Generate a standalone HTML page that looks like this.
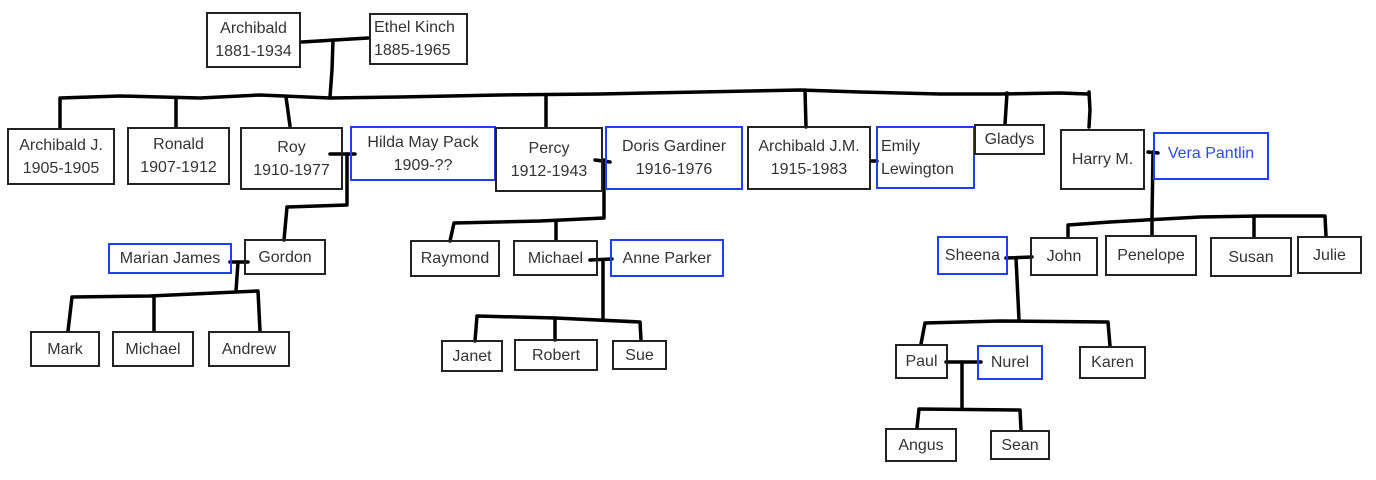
<!DOCTYPE html>
<html><head><meta charset="utf-8"><style>
body{margin:0;width:1376px;height:480px;background:#fff;position:relative;overflow:hidden;font-family:"Liberation Sans",sans-serif;}
.b{position:absolute;box-sizing:border-box;border:2px solid #222;color:#333;font-size:16px;line-height:23px;text-align:center;display:flex;flex-direction:column;justify-content:center;}
.u{border-color:#1f3ff0;}
svg{position:absolute;left:0;top:0;}
</style></head><body>
<svg width="1376" height="480" fill="none" stroke="#000" stroke-width="3.5" stroke-linecap="round" stroke-linejoin="round">
<polyline points="302,42 335,40 368,38"/>
<polyline points="333,40 332,70 330,97"/>
<polyline points="60,128 60,98 120,96 200,98 260,95 330,98 400,97 500,95 600,94 700,92 800,90 860,92 940,94 1000,94 1060,93 1088,94"/>
<polyline points="176,98 176,127"/><polyline points="286,97 290,126"/>
<polyline points="546,95 546,127"/><polyline points="805,90 806,127"/>
<polyline points="1007,93 1005,124"/><polyline points="1089,92 1090,110 1089,127"/>
<polyline points="330,154 355,154"/><polyline points="347,154 347,205 287,207 284,240"/>
<polyline points="595,160 610,162"/><polyline points="604,160 604,218 540,221 454,223 450,241"/>
<polyline points="556,221 556,240"/>
<polyline points="871,161 877,161"/>
<polyline points="590,260 612,259"/><polyline points="603,260 603,320"/>
<polyline points="475,341 477,316 555,318 640,322 641,340"/><polyline points="555,318 555,340"/>
<polyline points="230,262 248,262"/><polyline points="238,262 236,291"/>
<polyline points="68,331 72,297 150,296 258,291 260,331"/><polyline points="154,296 154,331"/>
<polyline points="1148,152 1158,153"/><polyline points="1153,152 1152,218"/>
<polyline points="1068,236 1068,225 1110,222 1200,217 1260,216 1325,216 1326,236"/>
<polyline points="1152,218 1152,235"/><polyline points="1254,216 1254,237"/>
<polyline points="1006,258 1032,257"/><polyline points="1016,258 1019,320"/>
<polyline points="921,344 925,323 1000,321 1108,322 1110,346"/>
<polyline points="946,362 981,362"/><polyline points="962,362 962,408"/>
<polyline points="917,428 919,409 1020,410 1021,430"/>
</svg>
<div class="b" style="left:206px;top:12px;width:95px;height:56px">Archibald<br>1881-1934</div>
<div class="b" style="left:369px;top:13px;width:99px;height:52px;text-align:left;padding-left:3px">Ethel Kinch<br>1885-1965</div>
<div class="b" style="left:7px;top:128px;width:108px;height:57px">Archibald J.<br>1905-1905</div>
<div class="b" style="left:127px;top:127px;width:103px;height:58px">Ronald<br>1907-1912</div>
<div class="b" style="left:240px;top:127px;width:103px;height:63px">Roy<br>1910-1977</div>
<div class="b u" style="left:350px;top:126px;width:146px;height:55px">Hilda May Pack<br>1909-??</div>
<div class="b" style="left:495px;top:127px;width:108px;height:65px">Percy<br>1912-1943</div>
<div class="b u" style="left:605px;top:126px;width:138px;height:64px">Doris Gardiner<br>1916-1976</div>
<div class="b" style="left:747px;top:126px;width:124px;height:64px">Archibald J.M.<br>1915-1983</div>
<div class="b u" style="left:876px;top:126px;width:99px;height:63px;text-align:left;padding-left:3px">Emily<br>Lewington</div>
<div class="b" style="left:974px;top:124px;width:71px;height:31px">Gladys</div>
<div class="b" style="left:1060px;top:129px;width:85px;height:61px">Harry M.</div>
<div class="b u" style="left:1153px;top:132px;width:116px;height:48px;color:#2a4af0;justify-content:flex-start;padding-top:8px">Vera Pantlin</div>
<div class="b u" style="left:108px;top:243px;width:124px;height:31px">Marian James</div>
<div class="b" style="left:244px;top:239px;width:82px;height:36px">Gordon</div>
<div class="b" style="left:410px;top:240px;width:90px;height:37px">Raymond</div>
<div class="b" style="left:513px;top:240px;width:85px;height:36px">Michael</div>
<div class="b u" style="left:610px;top:239px;width:114px;height:38px">Anne Parker</div>
<div class="b u" style="left:937px;top:236px;width:71px;height:39px">Sheena</div>
<div class="b" style="left:1030px;top:237px;width:68px;height:39px">John</div>
<div class="b" style="left:1105px;top:235px;width:92px;height:41px">Penelope</div>
<div class="b" style="left:1210px;top:237px;width:82px;height:40px">Susan</div>
<div class="b" style="left:1297px;top:236px;width:65px;height:38px">Julie</div>
<div class="b" style="left:30px;top:331px;width:70px;height:36px">Mark</div>
<div class="b" style="left:112px;top:331px;width:82px;height:36px">Michael</div>
<div class="b" style="left:208px;top:331px;width:82px;height:36px">Andrew</div>
<div class="b" style="left:441px;top:340px;width:62px;height:32px">Janet</div>
<div class="b" style="left:514px;top:339px;width:84px;height:32px">Robert</div>
<div class="b" style="left:612px;top:340px;width:55px;height:30px">Sue</div>
<div class="b" style="left:895px;top:344px;width:53px;height:35px">Paul</div>
<div class="b u" style="left:977px;top:345px;width:66px;height:35px">Nurel</div>
<div class="b" style="left:1079px;top:346px;width:67px;height:33px">Karen</div>
<div class="b" style="left:885px;top:428px;width:72px;height:34px">Angus</div>
<div class="b" style="left:990px;top:430px;width:60px;height:30px">Sean</div>
</body></html>
